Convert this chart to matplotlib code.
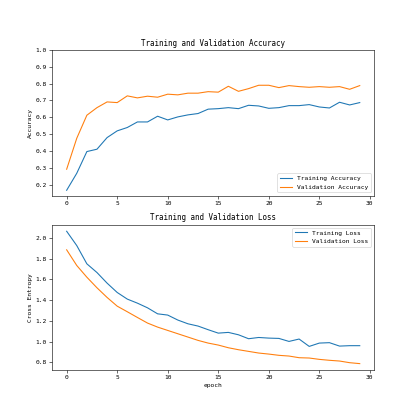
import matplotlib
matplotlib.use('Agg')
import matplotlib.pyplot as plt

plt.rcParams['font.family'] = ['DejaVu Sans Mono']
plt.rcParams['font.size'] = 8.7

acc = [0.166, 0.267, 0.396, 0.41, 0.479, 0.519, 0.539, 0.572, 0.572, 0.606,
       0.584, 0.602, 0.614, 0.622, 0.648, 0.651, 0.657, 0.651, 0.671, 0.667,
       0.653, 0.657, 0.669, 0.669, 0.675, 0.661, 0.655, 0.689, 0.673, 0.687]
val_acc = [0.291, 0.475, 0.612, 0.657, 0.691, 0.687, 0.727, 0.715, 0.725, 0.719,
           0.737, 0.733, 0.743, 0.743, 0.752, 0.749, 0.784, 0.754, 0.770, 0.790,
           0.790, 0.776, 0.788, 0.782, 0.778, 0.782, 0.778, 0.782, 0.766, 0.788]
loss = [2.064, 1.926, 1.75, 1.666, 1.564, 1.474, 1.41, 1.371, 1.326, 1.268,
        1.256, 1.208, 1.172, 1.15, 1.115, 1.082, 1.089, 1.066, 1.028, 1.04,
        1.034, 1.031, 1.002, 1.025, 0.954, 0.986, 0.99, 0.957, 0.961, 0.961]
val_loss = [1.885, 1.734, 1.621, 1.519, 1.426, 1.342, 1.288, 1.233, 1.179, 1.14,
            1.108, 1.076, 1.044, 1.012, 0.986, 0.967, 0.941, 0.922, 0.906, 0.89,
            0.88, 0.868, 0.861, 0.845, 0.842, 0.829, 0.82, 0.813, 0.797, 0.788]
epochs = list(range(len(acc)))

plt.figure(figsize=(8, 8))
plt.subplot(2, 1, 1)
plt.plot(epochs, acc, label='Training Accuracy')
plt.plot(epochs, val_acc, label='Validation Accuracy')
plt.legend(loc='lower right')
plt.ylabel('Accuracy')
plt.ylim([min(plt.ylim()), 1])
plt.title('Training and Validation Accuracy')

plt.subplot(2, 1, 2)
plt.plot(epochs, loss, label='Training Loss')
plt.plot(epochs, val_loss, label='Validation Loss')
plt.legend(loc='upper right')
plt.ylabel('Cross Entropy')
plt.title('Training and Validation Loss')
plt.xlabel('epoch')
plt.savefig('out.png', dpi=52)
